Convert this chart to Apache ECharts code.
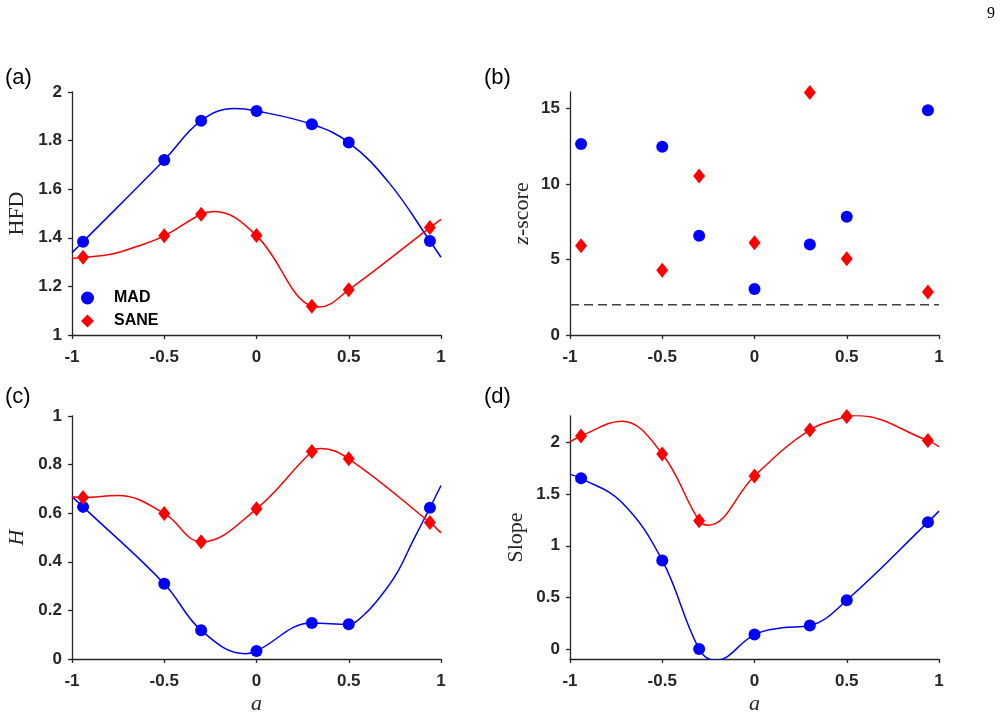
<!DOCTYPE html>
<html>
<head>
<meta charset="utf-8">
<title>HFD / z-score / H / Slope vs a</title>
<script src="https://cdn.jsdelivr.net/npm/echarts@6/dist/echarts.min.js"></script>
<style>
  html, body { margin: 0; padding: 0; background: #fff; }
  #chart { width: 1004px; height: 718px; }
</style>
</head>
<body>
<div id="chart"></div>
<script>
// a values where the measurements were taken
const alphaValues = [-0.94, -0.5, -0.3, 0, 0.3, 0.5, 0.94];

// (a) HFD
const hfdMad  = [1.384, 1.720, 1.882, 1.922, 1.867, 1.792, 1.387];
const hfdSane = [1.320, 1.408, 1.497, 1.409, 1.118, 1.186, 1.442];
// fitted curves as [a, value]
const hfdMadFit  = [[-1, 1.339], [-0.94, 1.384], [-0.5, 1.720], [-0.3, 1.882], [-0.12, 1.932], [0, 1.922], [0.3, 1.867], [0.5, 1.792], [0.72, 1.625], [0.94, 1.387], [1, 1.320]];
const hfdSaneFit = [[-1, 1.315], [-0.94, 1.320], [-0.79, 1.332], [-0.65, 1.364], [-0.5, 1.408], [-0.3, 1.497], [-0.23, 1.508], [0, 1.409], [0.3, 1.118], [0.34, 1.115], [0.5, 1.186], [0.94, 1.442], [1, 1.476]];

// (b) z-score
const zMad  = [12.66, 12.48, 6.58, 3.05, 5.99, 7.84, 14.89];
const zSane = [5.92, 4.29, 10.54, 6.12, 16.06, 5.06, 2.85];
const zThreshold = 2;

// (c) H
const hMad  = [0.626, 0.310, 0.118, 0.033, 0.148, 0.143, 0.622];
const hSane = [0.665, 0.599, 0.482, 0.618, 0.854, 0.824, 0.562];
const hMadFit  = [[-1, 0.668], [-0.94, 0.626], [-0.5, 0.310], [-0.3, 0.118], [-0.06, 0.022], [0, 0.033], [0.3, 0.148], [0.5, 0.143], [0.58, 0.180], [0.67, 0.255], [0.76, 0.352], [0.85, 0.489], [0.94, 0.622], [1, 0.714]];
const hSaneFit = [[-1, 0.668], [-0.94, 0.665], [-0.75, 0.673], [-0.5, 0.599], [-0.3, 0.482], [0, 0.618], [0.3, 0.854], [0.35, 0.866], [0.5, 0.824], [0.94, 0.562], [1, 0.519]];

// (d) Slope
const slopeMad  = [1.650, 0.859, 0.006, 0.145, 0.232, 0.476, 1.228];
const slopeSane = [2.058, 1.884, 1.241, 1.672, 2.116, 2.244, 2.013];
const slopeMadFit  = [[-1, 1.688], [-0.94, 1.650], [-0.72, 1.420], [-0.5, 0.859], [-0.3, 0.006], [-0.21, -0.103], [0, 0.145], [0.15, 0.210], [0.3, 0.232], [0.5, 0.476], [0.94, 1.228], [1, 1.334]];
const slopeSaneFit = [[-1, 2.000], [-0.94, 2.058], [-0.72, 2.199], [-0.5, 1.884], [-0.3, 1.241], [-0.25, 1.199], [0, 1.672], [0.3, 2.116], [0.5, 2.244], [0.55, 2.254], [0.94, 2.013], [1, 1.955]];

// tick labels
const xTicks = [-1, -0.5, 0, 0.5, 1];
const hfdTicks = [1, 1.2, 1.4, 1.6, 1.8, 2];
const zTicks = [0, 5, 10, 15];
const hTicks = [0, 0.2, 0.4, 0.6, 0.8, 1];
const slopeTicks = [0, 0.5, 1, 1.5, 2];

const BLUE = '#0000ff';
const RED = '#ff0000';
const AXIS = '#262626';
const SANS = '"Liberation Sans", Arial, sans-serif';
const SERIF = '"Liberation Serif", "Times New Roman", serif';

function pairs(xs, ys) {
  return xs.map((x, i) => [x, ys[i]]);
}

function makeXAxis(idx, withName) {
  return {
    type: 'value', gridIndex: idx, min: -1, max: 1,
    name: withName ? 'a' : '',
    nameLocation: 'middle', nameGap: 34,
    nameTextStyle: { fontFamily: SERIF, fontStyle: 'italic', fontSize: 22, color: AXIS },
    axisLine: { onZero: false, lineStyle: { color: AXIS, width: 1.3 } },
    axisTick: { show: true, inside: false, length: 4, customValues: xTicks, lineStyle: { color: AXIS, width: 1.3 } },
    axisLabel: { customValues: xTicks, margin: 14, fontFamily: SANS, fontWeight: 'bold', fontSize: 17, color: AXIS },
    splitLine: { show: false }
  };
}

function makeYAxis(idx, min, max, ticks, name, gap, rich) {
  const nameStyle = { fontFamily: SERIF, fontSize: 22, color: AXIS };
  if (rich) {
    nameStyle.rich = { i: { fontFamily: SERIF, fontStyle: 'italic', fontSize: 22, color: AXIS } };
  }
  return {
    type: 'value', gridIndex: idx, min: min, max: max,
    name: name, nameLocation: 'middle', nameGap: gap,
    nameTextStyle: nameStyle,
    axisLine: { show: true, onZero: false, lineStyle: { color: AXIS, width: 1.3 } },
    axisTick: { show: true, inside: false, length: 4, customValues: ticks, lineStyle: { color: AXIS, width: 1.3 } },
    axisLabel: { customValues: ticks, margin: 10, fontFamily: SANS, fontWeight: 'bold', fontSize: 17, color: AXIS },
    splitLine: { show: false }
  };
}

function fitLine(idx, name, data, color) {
  return {
    type: 'line', name: name, xAxisIndex: idx, yAxisIndex: idx,
    data: data, smooth: 0.4, showSymbol: false, clip: true,
    lineStyle: { color: color, width: 1.5 }, silent: true
  };
}

function markers(idx, name, data, isMad) {
  return {
    type: 'scatter', name: name, xAxisIndex: idx, yAxisIndex: idx,
    data: data,
    symbol: isMad ? 'circle' : 'diamond',
    symbolSize: isMad ? 12 : [12, 15],
    itemStyle: { color: isMad ? BLUE : RED, opacity: 1 },
    z: 3
  };
}

const chart = echarts.init(document.getElementById('chart'), null, { renderer: 'canvas' });

const panelLabel = (text, x, y) => ({
  type: 'text', left: x, top: y,
  style: { text: text, font: '22px ' + SANS, fill: '#000' }
});

const option = {
  animation: false,
  backgroundColor: '#fff',
  grid: [
    { left: 72, top: 92, width: 369, height: 243 },
    { left: 570, top: 92, width: 369, height: 243 },
    { left: 72, top: 416, width: 369, height: 243 },
    { left: 570, top: 416, width: 369, height: 243 }
  ],
  xAxis: [makeXAxis(0, false), makeXAxis(1, false), makeXAxis(2, true), makeXAxis(3, true)],
  yAxis: [
    makeYAxis(0, 1, 2, hfdTicks, 'HFD', 44, false),
    makeYAxis(1, 0, 16.1, zTicks, '{i|z}-score', 37, true),
    makeYAxis(2, 0, 1, hTicks, '{i|H}', 44, true),
    makeYAxis(3, -0.09, 2.25, slopeTicks, 'Slope', 43, false)
  ],
  legend: {
    left: 81, top: 290, orient: 'vertical', padding: 0,
    itemWidth: 13, itemHeight: 13, itemGap: 7,
    data: [{ name: 'MAD', icon: 'circle' }, { name: 'SANE', icon: 'diamond' }],
    formatter: name => '{pad|}' + name,
    textStyle: {
      fontFamily: SANS, fontWeight: 'bold', fontSize: 16, color: '#000',
      rich: { pad: { width: 15 } }
    },
    selectedMode: false
  },
  graphic: [
    panelLabel('(a)', 5, 67),
    panelLabel('(b)', 484, 67),
    panelLabel('(c)', 5, 386),
    panelLabel('(d)', 484, 386),
    { type: 'text', left: 987, top: 6, style: { text: '9', font: '16px ' + SERIF, fill: '#000' } }
  ],
  series: [
    fitLine(0, 'MAD fit', hfdMadFit, BLUE),
    fitLine(0, 'SANE fit', hfdSaneFit, RED),
    markers(0, 'MAD', pairs(alphaValues, hfdMad), true),
    markers(0, 'SANE', pairs(alphaValues, hfdSane), false),

    {
      type: 'line', name: 'threshold', xAxisIndex: 1, yAxisIndex: 1,
      data: [[-1, zThreshold], [1, zThreshold]], showSymbol: false, silent: true,
      lineStyle: { color: '#404040', width: 1.5, type: [9, 5] }
    },
    markers(1, 'MAD', pairs(alphaValues, zMad), true),
    markers(1, 'SANE', pairs(alphaValues, zSane), false),

    fitLine(2, 'MAD fit', hMadFit, BLUE),
    fitLine(2, 'SANE fit', hSaneFit, RED),
    markers(2, 'MAD', pairs(alphaValues, hMad), true),
    markers(2, 'SANE', pairs(alphaValues, hSane), false),

    fitLine(3, 'MAD fit', slopeMadFit, BLUE),
    fitLine(3, 'SANE fit', slopeSaneFit, RED),
    markers(3, 'MAD', pairs(alphaValues, slopeMad), true),
    markers(3, 'SANE', pairs(alphaValues, slopeSane), false)
  ]
};

chart.setOption(option);
</script>
</body>
</html>
